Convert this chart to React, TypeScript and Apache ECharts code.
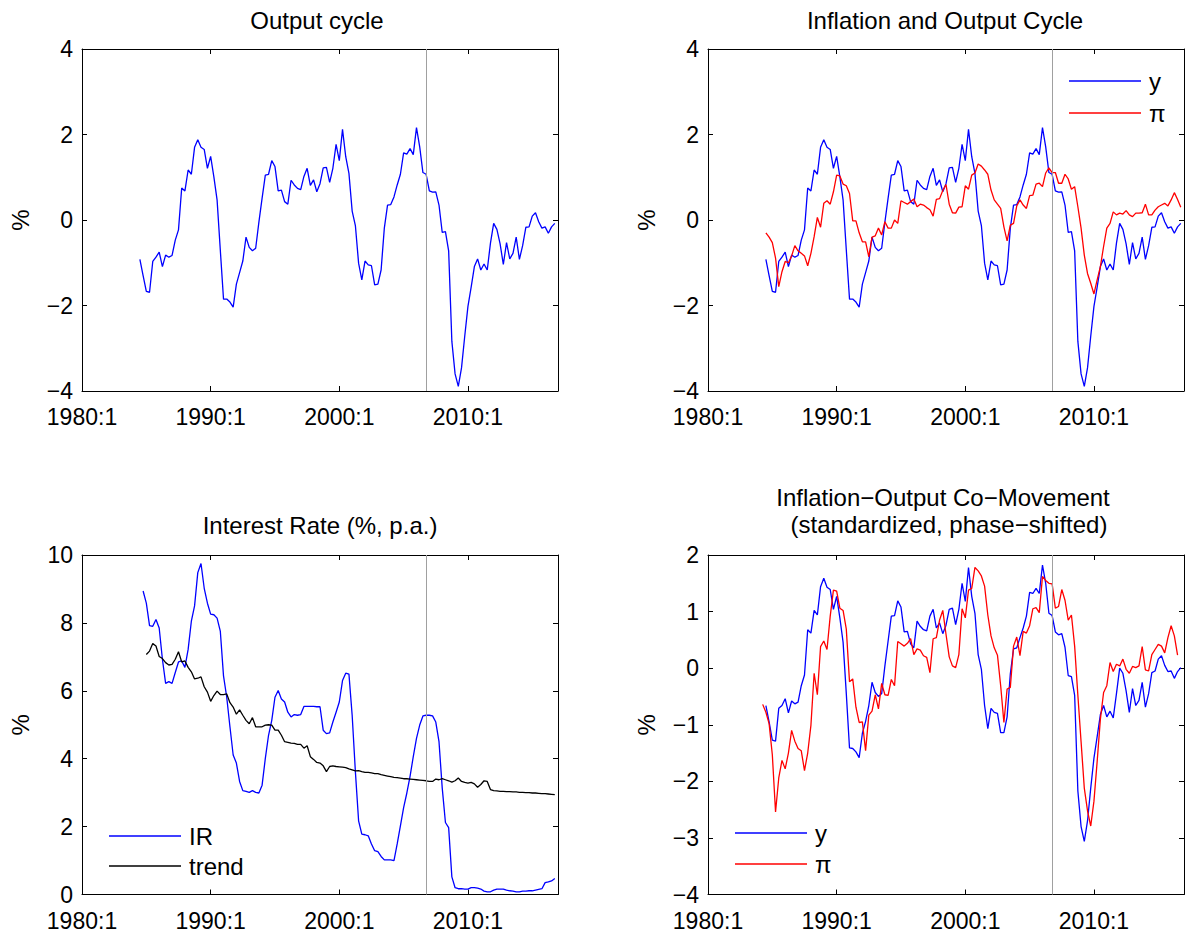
import React, { useEffect, useRef } from 'react';
import * as echarts from 'echarts';

// ---------- data (quarterly) ----------
const X_MIN = 1980;
const X_MAX = 2017;
const X_INTERVAL = 10;
const EVENT_QUARTER = '2006:4';

const OUTPUT_START = '1984:3';
const outputCycle = [
  -0.92, -1.30, -1.67, -1.69, -0.97, -0.87, -0.75, -1.09, -0.82, -0.87,
  -0.83, -0.47, -0.23, 0.75, 0.68, 1.17, 1.07, 1.70, 1.88, 1.70,
  1.65, 1.21, 1.49, 1.01, 0.47, -0.70, -1.85, -1.85, -1.92, -2.04,
  -1.50, -1.23, -0.96, -0.40, -0.64, -0.72, -0.66, -0.05, 0.51, 1.05,
  1.07, 1.39, 1.25, 0.68, 0.70, 0.43, 0.37, 0.93, 0.82, 0.74,
  0.71, 1.02, 1.21, 0.81, 0.94, 0.66, 0.85, 1.22, 1.23, 0.88,
  1.21, 1.77, 1.39, 2.12, 1.48, 1.09, 0.21, -0.13, -1.01, -1.40,
  -0.96, -1.05, -1.07, -1.52, -1.50, -1.17, -0.19, 0.35, 0.36, 0.54,
  0.82, 1.07, 1.57, 1.54, 1.67, 1.53, 2.16, 1.71, 1.11, 1.07,
  0.68, 0.65, 0.66, 0.35, -0.29, -0.27, -0.72, -2.84, -3.60, -3.89,
  -3.46, -2.72, -2.02, -1.57, -1.09, -0.91, -1.17, -1.03, -1.17, -0.54,
  -0.08, -0.22, -0.56, -1.04, -0.53, -0.91, -0.78, -0.40, -0.92, -0.60,
  -0.17, -0.16, 0.09, 0.17, -0.04, -0.19, -0.16, -0.31, -0.16, -0.08,
];

const INFLATION_START = '1984:3';
const inflation = [
  -0.30, -0.40, -0.53, -0.89, -1.56, -1.21, -0.97, -1.00, -0.84, -0.60,
  -0.72, -0.78, -0.84, -1.07, -0.78, -0.39, 0.06, -0.17, 0.39, 0.45,
  0.37, 0.66, 1.05, 1.03, 0.84, 0.80, 0.62, -0.02, -0.02, -0.30,
  -0.51, -0.51, -0.86, -0.40, -0.37, -0.19, -0.35, -0.04, -0.19, -0.19,
  0.00, -0.08, 0.45, 0.41, 0.37, 0.43, 0.49, 0.31, 0.37, 0.35,
  0.29, 0.24, 0.09, 0.48, 0.50, 0.69, 0.83, 0.37, 0.17, 0.16,
  0.30, 0.31, 0.80, 0.72, 1.05, 1.10, 1.31, 1.26, 1.17, 1.07,
  0.70, 0.47, 0.37, 0.27, -0.16, -0.49, -0.12, -0.08, 0.33, 0.47,
  0.35, 0.27, 0.57, 0.58, 0.84, 0.86, 0.78, 1.10, 1.22, 1.11,
  1.11, 0.86, 0.86, 1.07, 0.96, 0.72, 0.78, 0.31, -0.19, -0.82,
  -1.25, -1.48, -1.73, -1.40, -1.09, -0.62, -0.19, -0.08, 0.19, 0.12,
  0.16, 0.14, 0.22, 0.12, 0.08, 0.16, 0.16, 0.17, 0.37, 0.12,
  0.12, 0.23, 0.31, 0.35, 0.39, 0.33, 0.47, 0.64, 0.48, 0.30,
];

const IR_START = '1984:4';
const interestRate = [
  8.94, 8.58, 7.92, 7.90, 8.10, 7.85, 6.93, 6.22, 6.27, 6.22,
  6.54, 6.85, 6.88, 6.69, 7.22, 8.05, 8.50, 9.48, 9.75, 9.02,
  8.58, 8.26, 8.24, 8.14, 7.76, 6.44, 5.81, 4.94, 4.11, 3.87,
  3.33, 3.06, 3.04, 3.01, 3.06, 3.01, 2.99, 3.22, 4.01, 4.69,
  5.13, 5.81, 6.01, 5.76, 5.67, 5.37, 5.23, 5.30, 5.28, 5.30,
  5.54, 5.54, 5.54, 5.54, 5.53, 5.53, 4.84, 4.74, 4.76, 5.08,
  5.37, 5.67, 6.30, 6.52, 6.49, 5.28, 3.62, 2.17, 1.78, 1.76,
  1.73, 1.49, 1.29, 1.26, 1.12, 1.02, 1.02, 1.02, 1.00, 1.49,
  2.02, 2.56, 2.99, 3.48, 4.06, 4.60, 4.99, 5.26, 5.28, 5.28,
  5.26, 5.08, 4.50, 3.14, 2.12, 1.97, 0.52, 0.20, 0.17, 0.17,
  0.16, 0.16, 0.20, 0.20, 0.19, 0.16, 0.10, 0.08, 0.08, 0.13,
  0.16, 0.16, 0.16, 0.13, 0.11, 0.10, 0.08, 0.08, 0.10, 0.10,
  0.11, 0.11, 0.13, 0.15, 0.17, 0.35, 0.37, 0.40, 0.47,
];

const TREND_START = '1985:1';
const irTrend = [
  7.07, 7.17, 7.39, 7.32, 7.01, 6.95, 6.83, 6.76, 6.78, 6.93,
  7.15, 6.85, 6.88, 6.69, 6.56, 6.35, 6.37, 6.41, 6.12, 5.96,
  5.69, 5.86, 5.99, 5.89, 5.89, 5.91, 5.65, 5.52, 5.31, 5.44,
  5.28, 5.13, 5.03, 5.21, 4.94, 4.94, 4.94, 4.99, 5.00, 4.99,
  4.84, 4.84, 4.69, 4.50, 4.48, 4.46, 4.45, 4.42, 4.42, 4.31,
  4.38, 4.06, 3.98, 3.89, 3.87, 3.79, 3.62, 3.77, 3.79, 3.77,
  3.76, 3.75, 3.74, 3.70, 3.67, 3.64, 3.65, 3.62, 3.60, 3.60,
  3.58, 3.56, 3.56, 3.53, 3.51, 3.49, 3.47, 3.45, 3.44, 3.43,
  3.41, 3.41, 3.40, 3.39, 3.38, 3.37, 3.36, 3.35, 3.33, 3.33,
  3.40, 3.38, 3.41, 3.38, 3.35, 3.31, 3.35, 3.43, 3.33, 3.30,
  3.28, 3.30, 3.26, 3.16, 3.24, 3.35, 3.33, 3.09, 3.06, 3.05,
  3.04, 3.04, 3.03, 3.03, 3.02, 3.02, 3.01, 3.01, 3.00, 3.00,
  2.99, 2.99, 2.98, 2.97, 2.97, 2.96, 2.95, 2.94,
];

const OUTPUT_STD_START = '1984:3';
const outputStd = [
  -0.66, -0.95, -1.27, -1.29, -0.71, -0.66, -0.54, -0.79, -0.58, -0.63,
  -0.60, -0.31, -0.12, 0.68, 0.62, 1.02, 0.94, 1.44, 1.59, 1.43,
  1.39, 1.04, 1.27, 0.89, 0.46, -0.45, -1.41, -1.42, -1.48, -1.58,
  -1.15, -0.94, -0.66, -0.25, -0.43, -0.50, -0.45, 0.04, 0.48, 0.92,
  0.93, 1.19, 1.08, 0.64, 0.65, 0.43, 0.36, 0.83, 0.74, 0.68,
  0.66, 0.92, 1.04, 0.71, 0.80, 0.61, 0.76, 1.04, 1.06, 0.77,
  1.04, 1.50, 1.18, 1.78, 1.27, 0.97, 0.24, -0.02, -0.66, -1.07,
  -0.71, -0.78, -0.80, -1.14, -1.14, -0.86, -0.10, 0.34, 0.36, 0.54,
  0.71, 0.92, 1.34, 1.32, 1.41, 1.32, 1.82, 1.50, 0.97, 0.93,
  0.64, 0.59, 0.61, 0.37, -0.13, -0.15, -0.48, -2.17, -2.80, -3.06,
  -2.70, -2.12, -1.59, -1.21, -0.82, -0.66, -0.86, -0.76, -0.88, -0.45,
  0.00, -0.09, -0.40, -0.78, -0.36, -0.66, -0.57, -0.25, -0.69, -0.45,
  -0.08, -0.05, 0.16, 0.22, 0.05, -0.06, -0.05, -0.18, -0.06, 0.01,
];

const INFLATION_STD_START = '1984:2';
const inflationStd = [
  -0.64, -0.78, -0.98, -1.53, -2.54, -1.94, -1.63, -1.78, -1.50, -1.10,
  -1.29, -1.42, -1.46, -1.81, -1.50, -1.01, -0.09, -0.47, 0.38, 0.48,
  0.33, 0.92, 1.38, 1.36, 1.06, 1.02, 0.69, -0.24, -0.19, -0.69,
  -0.96, -0.95, -1.46, -0.83, -0.76, -0.47, -0.72, -0.27, -0.47, -0.48,
  -0.20, -0.31, 0.47, 0.43, 0.39, 0.44, 0.52, 0.24, 0.34, 0.32,
  0.22, 0.19, -0.08, 0.52, 0.54, 0.85, 1.02, 0.60, 0.20, 0.04,
  0.01, 0.24, 1.05, 0.89, 1.38, 1.41, 1.78, 1.72, 1.63, 1.45,
  0.94, 0.57, 0.36, 0.23, -0.31, -0.96, -0.37, -0.34, 0.39, 0.55,
  0.22, 0.65, 0.62, 0.75, 1.05, 1.07, 0.98, 1.62, 1.55, 1.50,
  1.49, 1.06, 1.09, 1.39, 1.20, 0.85, 0.94, 0.39, -0.48, -1.30,
  -2.12, -2.52, -2.79, -2.35, -1.65, -0.90, -0.43, -0.31, 0.10, -0.06,
  0.07, 0.04, 0.16, -0.02, -0.09, 0.03, 0.01, 0.04, 0.38, -0.03,
  -0.05, 0.24, 0.33, 0.42, 0.39, 0.27, 0.54, 0.75, 0.57, 0.23,
];

// ---------- helpers ----------
const FONT = "'Liberation Sans', Arial, Helvetica, sans-serif";
const BLUE = '#0000ff';
const RED = '#ff0000';
const BLACK = '#000000';
const GRAY = '#a0a0a0';
const TICK_FONT = 23;
const TITLE_FONT = 24;

function quarterToX(q: string): number {
  const [y, k] = q.split(':').map(Number);
  return y + (k - 1) / 4;
}
function toPairs(start: string, values: number[]): [number, number][] {
  const x0 = quarterToX(start);
  return values.map((v, i) => [x0 + i / 4, v]);
}
const minus = (v: number) => String(v).replace('-', '\u2212');

const PANELS = [
  { grid: { left: 82, top: 49, width: 476, height: 342 }, yMin: -4, yMax: 4, yInt: 2 },
  { grid: { left: 708, top: 49, width: 476, height: 342 }, yMin: -4, yMax: 4, yInt: 2 },
  { grid: { left: 82, top: 555, width: 476, height: 343 }, yMin: 0, yMax: 10, yInt: 2 },
  { grid: { left: 708, top: 555, width: 476, height: 343 }, yMin: -4, yMax: 2, yInt: 1 },
];

function buildOption() {
  const grid: any[] = [];
  const xAxis: any[] = [];
  const yAxis: any[] = [];
  PANELS.forEach((p, k) => {
    grid.push({ ...p.grid, containLabel: false });
    const axisLine = { show: true, onZero: false, lineStyle: { color: BLACK, width: 1 } };
    const axisTick = { show: true, inside: true, length: 5, lineStyle: { color: BLACK, width: 1 } };
    xAxis.push({
      type: 'value', gridIndex: k, position: 'bottom', min: X_MIN, max: X_MAX, interval: X_INTERVAL,
      axisLine, axisTick, splitLine: { show: false },
      axisLabel: {
        show: true, color: BLACK, fontSize: TICK_FONT, fontFamily: FONT, margin: 17, lineHeight: 18,
        showMaxLabel: false,
        formatter: (v: number) => (v % 10 === 0 ? `${v}:1` : ''),
      },
    });
    xAxis.push({
      type: 'value', gridIndex: k, position: 'top', min: X_MIN, max: X_MAX, interval: X_INTERVAL,
      axisLine, axisTick, splitLine: { show: false }, axisLabel: { show: false },
    });
    yAxis.push({
      type: 'value', gridIndex: k, position: 'left', min: p.yMin, max: p.yMax, interval: p.yInt,
      axisLine, axisTick, splitLine: { show: false },
      axisLabel: { color: BLACK, fontSize: TICK_FONT, fontFamily: FONT, margin: 9, lineHeight: 16, formatter: minus },
      name: '%', nameLocation: 'middle', nameGap: 50, nameRotate: 90,
      nameTextStyle: { color: BLACK, fontSize: TITLE_FONT, fontFamily: FONT },
    });
    yAxis.push({
      type: 'value', gridIndex: k, position: 'right', min: p.yMin, max: p.yMax, interval: p.yInt,
      axisLine, axisTick, splitLine: { show: false }, axisLabel: { show: false },
    });
  });

  const eventLine = {
    silent: true,
    symbol: ['none', 'none'],
    label: { show: false },
    lineStyle: { color: GRAY, width: 1, type: 'solid' },
    data: [{ xAxis: quarterToX(EVENT_QUARTER) }],
  };
  const line = (name: string, data: [number, number][], color: string, panel: number, withEvent = false) => ({
    type: 'line', name, data, xAxisIndex: panel * 2, yAxisIndex: panel * 2,
    symbol: 'none', showSymbol: false, lineStyle: { color, width: 1.3 }, itemStyle: { color },
    emphasis: { disabled: true }, silent: true,
    ...(withEvent ? { markLine: eventLine } : {}),
  });

  const series = [
    line('Output cycle', toPairs(OUTPUT_START, outputCycle), BLUE, 0, true),
    line('y', toPairs(OUTPUT_START, outputCycle), BLUE, 1, true),
    line('π', toPairs(INFLATION_START, inflation), RED, 1),
    line('IR', toPairs(IR_START, interestRate), BLUE, 2, true),
    line('trend', toPairs(TREND_START, irTrend), BLACK, 2),
    line('y', toPairs(OUTPUT_STD_START, outputStd), BLUE, 3, true),
    line('π', toPairs(INFLATION_STD_START, inflationStd), RED, 3),
  ];

  const legendBase = {
    orient: 'vertical', icon: 'rect', itemWidth: 72, itemHeight: 1.4, padding: 0,
    selectedMode: false,
    textStyle: { color: BLACK, fontSize: 24, lineHeight: 24, fontFamily: FONT, padding: [0, 0, 0, 3] },
  };
  const legend = [
    { ...legendBase, data: ['y', 'π'], left: 1069, top: 69, itemGap: 8 },
    { ...legendBase, data: ['IR', 'trend'], left: 109, top: 824, itemGap: 6 },
    { ...legendBase, data: ['y', 'π'], left: 735, top: 821, itemGap: 7 },
  ];

  const titleText = (text: string, x: number, y: number) => ({
    type: 'text', x, y, silent: true,
    style: { text, fill: BLACK, fontSize: TITLE_FONT, fontFamily: FONT, align: 'center', verticalAlign: 'middle' },
  });
  const graphic = [
    titleText('Output cycle', 317, 20),
    titleText('Inflation and Output Cycle', 945, 20),
    titleText('Interest Rate (%, p.a.)', 320, 525),
    titleText('Inflation\u2212Output Co\u2212Movement', 943, 497),
    titleText('(standardized, phase\u2212shifted)', 949, 524),
  ];

  return {
    animation: false,
    backgroundColor: '#ffffff',
    textStyle: { fontFamily: FONT },
    grid, xAxis, yAxis, series, legend, graphic,
  };
}

export default function App() {
  const ref = useRef<HTMLDivElement>(null);
  useEffect(() => {
    if (!ref.current) return;
    const chart = echarts.init(ref.current, undefined, { renderer: 'svg' });
    chart.setOption(buildOption() as any);
    return () => chart.dispose();
  }, []);
  return (
    <div
      ref={ref}
      style={{ position: 'absolute', left: 0, top: 0, width: '1190px', height: '932px', background: '#fff' }}
    />
  );
}
